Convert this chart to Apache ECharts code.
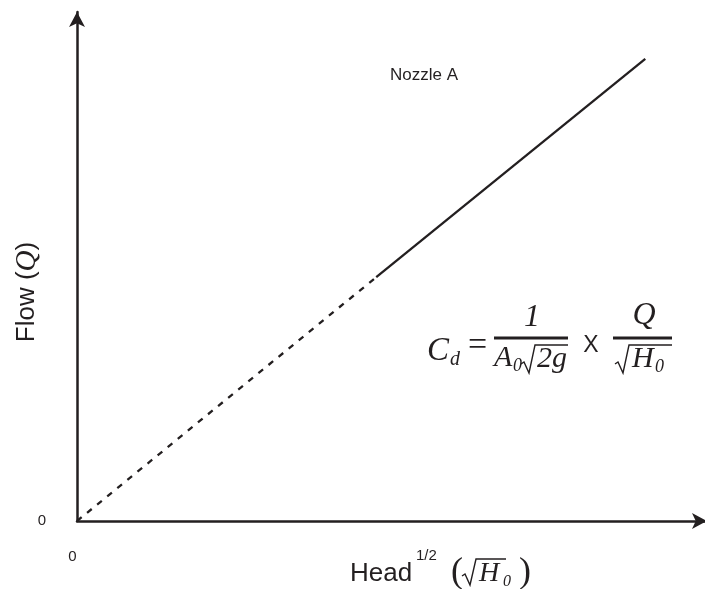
<!DOCTYPE html>
<html lang="en">
<head>
    <meta charset="UTF-8">
    <title>Nozzle A</title>
    <script src="https://cdnjs.cloudflare.com/ajax/libs/echarts/6.0.0/echarts.min.js"></script>
    <style>
        html, body { margin: 0; padding: 0; background: #fff; }
        #main { width: 705px; height: 589px; }
    </style>
</head>
<body>
    <div id="main"></div>
    <script>
        // data (head^1/2 vs flow, arbitrary units 0-100)
        const headDashed = [0, 47.5];
        const flowDashed = [0, 47.9];
        const headSolid = [47.5, 90.2];
        const flowSolid = [47.9, 90.8];
        const tickLabels = ['0'];

        const ink = '#231f20';
        const sans = 'Liberation Sans, Arial, sans-serif';
        const serif = 'Liberation Serif, Times New Roman, serif';

        const chart = echarts.init(document.getElementById('main'));

        function pairs(xs, ys) {
            return xs.map((x, i) => [x, ys[i]]);
        }

        function txt(x, y, text, font, align) {
            return {
                type: 'text', x: x, y: y, silent: true,
                style: { text: text, font: font, fill: ink, align: align || 'left', verticalAlign: 'middle' }
            };
        }

        function hline(x1, x2, y, w) {
            return {
                type: 'line', silent: true,
                shape: { x1: x1, y1: y, x2: x2, y2: y },
                style: { stroke: ink, lineWidth: w || 2.8 }
            };
        }

        // radical sign: x start, top (overline) y, bottom y, overline end x
        function radical(x, top, bot, xEnd) {
            return {
                type: 'polyline', silent: true,
                shape: { points: [[x, bot - 9], [x + 3, bot - 11], [x + 8, bot], [x + 14, top], [xEnd, top]] },
                style: { stroke: ink, lineWidth: 1.4, fill: null }
            };
        }

        const axisCommon = {
            type: 'value',
            min: 0,
            max: 100,
            interval: 100,
            axisLine: {
                show: true,
                onZero: false,
                symbol: ['none', 'arrow'],
                symbolSize: [12, 15],
                lineStyle: { color: ink, width: 2.5 }
            },
            axisTick: { show: false },
            splitLine: { show: false },
            axisLabel: {
                color: ink,
                fontSize: 15,
                fontFamily: sans,
                formatter: (v) => (v === 0 ? tickLabels[0] : '')
            }
        };

        const option = {
            animation: false,
            backgroundColor: '#fff',
            grid: { left: 77, right: -2, top: 12, bottom: 68, outerBoundsMode: 'none' },
            xAxis: Object.assign({}, axisCommon, {
                axisLabel: Object.assign({}, axisCommon.axisLabel, { margin: 28, padding: [0, 9, 0, 0] })
            }),
            yAxis: Object.assign({}, axisCommon, {
                axisLabel: Object.assign({}, axisCommon.axisLabel, { margin: 31, padding: [0, 0, 4, 0] })
            }),
            series: [
                {
                    type: 'line',
                    data: pairs(headDashed, flowDashed),
                    symbol: 'none',
                    lineStyle: { color: ink, width: 2.3, type: [6, 7] }
                },
                {
                    type: 'line',
                    data: pairs(headSolid, flowSolid),
                    symbol: 'none',
                    lineStyle: { color: ink, width: 2.3 }
                }
            ],
            graphic: [
                txt(390, 75, 'Nozzle A', '17px ' + sans),

                // y axis name
                {
                    type: 'text', x: 27, y: 292, rotation: Math.PI / 2, silent: true,
                    style: {
                        text: '{a|Flow (}{q|Q}{a|)}',
                        align: 'center', verticalAlign: 'middle',
                        rich: {
                            a: { font: '26px ' + sans, fill: ink },
                            q: { font: 'italic 29px ' + serif, fill: ink }
                        }
                    }
                },

                // x axis name
                txt(350, 574, 'Head', '26px ' + sans),
                txt(416, 556, '1/2', '15px ' + sans),
                txt(451, 573, '(', '36px ' + serif),
                radical(462, 559, 585, 506),
                txt(479, 574, 'H', 'italic 28px ' + serif),
                txt(503, 582, '0', 'italic 16px ' + serif),
                txt(519, 573, ')', '36px ' + serif),

                // formula
                txt(427, 351, 'C', 'italic 33px ' + serif),
                txt(450, 360, 'd', 'italic 20px ' + serif),
                txt(468, 346, '=', '34px ' + serif),
                hline(494, 568, 338),
                txt(532, 318, '1', 'italic 32px ' + serif, 'center'),
                txt(494, 358, 'A', 'italic 30px ' + serif),
                txt(513, 366, '0', 'italic 18px ' + serif),
                radical(521, 345, 373, 568),
                txt(537, 359, '2g', 'italic 30px ' + serif),
                txt(591, 346, 'X', '23px ' + sans, 'center'),
                hline(613, 672, 338),
                txt(644, 316, 'Q', 'italic 32px ' + serif, 'center'),
                radical(615, 345, 373, 672),
                txt(632, 359, 'H', 'italic 30px ' + serif),
                txt(655, 367, '0', 'italic 18px ' + serif)
            ]
        };

        chart.setOption(option);
    </script>
</body>
</html>
